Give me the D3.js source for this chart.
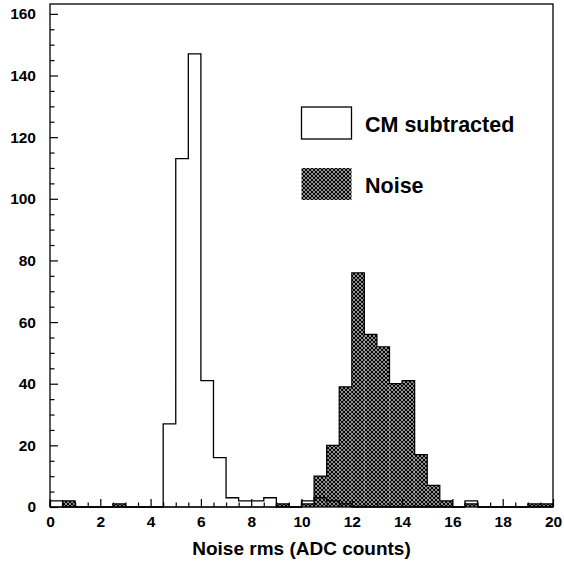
<!DOCTYPE html>
<html><head><meta charset="utf-8">
<script src="https://cdn.jsdelivr.net/npm/d3@7/dist/d3.min.js"></script>
<style>html,body{margin:0;padding:0;background:#fff;}svg{display:block;}</style>
</head><body>
<svg id="chart" width="564" height="562"></svg>
<script>
// ---- data ----
const binStart = [0,0.5,1,1.5,2,2.5,3,3.5,4,4.5,5,5.5,6,6.5,7,7.5,8,8.5,9,9.5,
                  10,10.5,11,11.5,12,12.5,13,13.5,14,14.5,15,15.5,16,16.5,17,17.5,18,18.5,19,19.5];
const binWidth = 0.5;
const cmSubtracted = [2,0,0,0,0,0,0,0,0,27,113,147,41,16,3,2,2,3,0,0,
                      2,3,2,1,0,0,0,0,0,0,0,0,0,2,0,0,0,0,0,0];
const noise = [0,2,0,0,0,1,0,0,0,0,0,0,0,0,0,0,0,0,1,0,
               1,10,20,39,76,56,52,40,41,17,7,2,0,1,0,0,0,0,1,1];
const xTickLabels = [0,2,4,6,8,10,12,14,16,18,20];
const yTickLabels = [0,20,40,60,80,100,120,140,160];
const xTitle = "Noise rms (ADC counts)";
const legendLabels = ["CM subtracted", "Noise"];

// ---- layout ----
const W = 564, H = 562;
const m = {left: 50, right: 11, top: 4, bottom: 55};
const svg = d3.select("#chart");
const x = d3.scaleLinear().domain([0, 20]).range([m.left, W - m.right]);
const y = d3.scaleLinear().domain([0, 163.2]).range([H - m.bottom, m.top]);
const font = "'Liberation Sans', Arial, Helvetica, sans-serif";

// hatch pattern
const defs = svg.append("defs");
const pat = defs.append("pattern").attr("id", "hatch")
  .attr("patternUnits", "userSpaceOnUse").attr("width", 4).attr("height", 4);
pat.append("rect").attr("width", 4).attr("height", 4).attr("fill", "#fff");
pat.append("path").attr("d", "M-1,-1L5,5M-1,5L5,-1M3,-1L5,1M-1,3L1,5M1,-1L-1,1M5,3L3,5")
  .attr("stroke", "#000").attr("stroke-width", 1.3);

function stepPath(vals) {
  const pts = [[x(binStart[0]), y(0)]];
  vals.forEach((v, i) => {
    pts.push([x(binStart[i]), y(v)]);
    pts.push([x(binStart[i] + binWidth), y(v)]);
  });
  pts.push([x(binStart[vals.length - 1] + binWidth), y(0)]);
  return d3.line()(pts);
}

// noise histogram (filled hatch)
const g = svg.append("g");
g.selectAll("rect.noise").data(noise.map((v, i) => ({v, i})).filter(d => d.v > 0))
  .join("rect").attr("class", "noise")
  .attr("x", d => x(binStart[d.i])).attr("width", d => x(binStart[d.i] + binWidth) - x(binStart[d.i]))
  .attr("y", d => y(d.v)).attr("height", d => y(0) - y(d.v))
  .attr("fill", "url(#hatch)");
g.append("path").attr("d", stepPath(noise)).attr("fill", "none")
  .attr("stroke", "#000").attr("stroke-width", 1.2);

// CM subtracted histogram (hollow)
g.append("path").attr("d", stepPath(cmSubtracted)).attr("fill", "none")
  .attr("stroke", "#000").attr("stroke-width", 1.3);

// axes
const xAxis = d3.axisBottom(x).tickValues(xTickLabels).tickSize(-8).tickPadding(9)
  .tickFormat(d3.format("d"));
const xMinor = d3.axisBottom(x).tickValues(d3.range(0, 20.01, 0.5).filter(v => v % 2 !== 0))
  .tickSize(-4.5).tickFormat("");
const yAxis = d3.axisLeft(y).tickValues(yTickLabels).tickSize(-8).tickPadding(14)
  .tickFormat(d3.format("d"));
const yMinor = d3.axisLeft(y).tickValues(d3.range(0, 163, 5).filter(v => v % 20 !== 0))
  .tickSize(-4.5).tickFormat("");

function styleAxis(sel) {
  sel.select(".domain").remove();
  sel.selectAll("line").attr("stroke", "#000").attr("stroke-width", 1.2);
  sel.selectAll("text").attr("font-family", font).attr("font-weight", "bold")
    .attr("font-size", 15.5).attr("fill", "#000");
}
svg.append("g").attr("transform", `translate(0,${H - m.bottom})`).call(xMinor).call(styleAxis);
svg.append("g").attr("transform", `translate(0,${H - m.bottom})`).call(xAxis).call(styleAxis);
svg.append("g").attr("transform", `translate(${m.left},0)`).call(yMinor).call(styleAxis);
svg.append("g").attr("transform", `translate(${m.left},0)`).call(yAxis).call(styleAxis);

// frame
svg.append("rect").attr("x", m.left).attr("y", m.top)
  .attr("width", W - m.left - m.right).attr("height", H - m.top - m.bottom)
  .attr("fill", "none").attr("stroke", "#000").attr("stroke-width", 1.3);

// x title
svg.append("text").attr("x", (m.left + W - m.right) / 2).attr("y", 555)
  .attr("text-anchor", "middle").attr("font-family", font).attr("font-weight", "bold")
  .attr("font-size", 19).text(xTitle);

// legend
const leg = svg.append("g");
const legRows = [{label: legendLabels[0], y: 107, fill: "#fff"}, {label: legendLabels[1], y: 168, fill: "url(#hatch)"}];
legRows.forEach((r, i) => {
  leg.append("rect").attr("x", 301.5).attr("y", r.y).attr("width", 50).attr("height", 32)
    .attr("fill", r.fill).attr("stroke", i === 0 ? "#000" : "none").attr("stroke-width", 1.3);
  leg.append("text").attr("x", 365).attr("y", r.y + 17).attr("dy", "0.35em")
    .attr("font-family", font).attr("font-weight", "bold").attr("font-size", 21.5).text(r.label);
});
</script>
</body></html>
